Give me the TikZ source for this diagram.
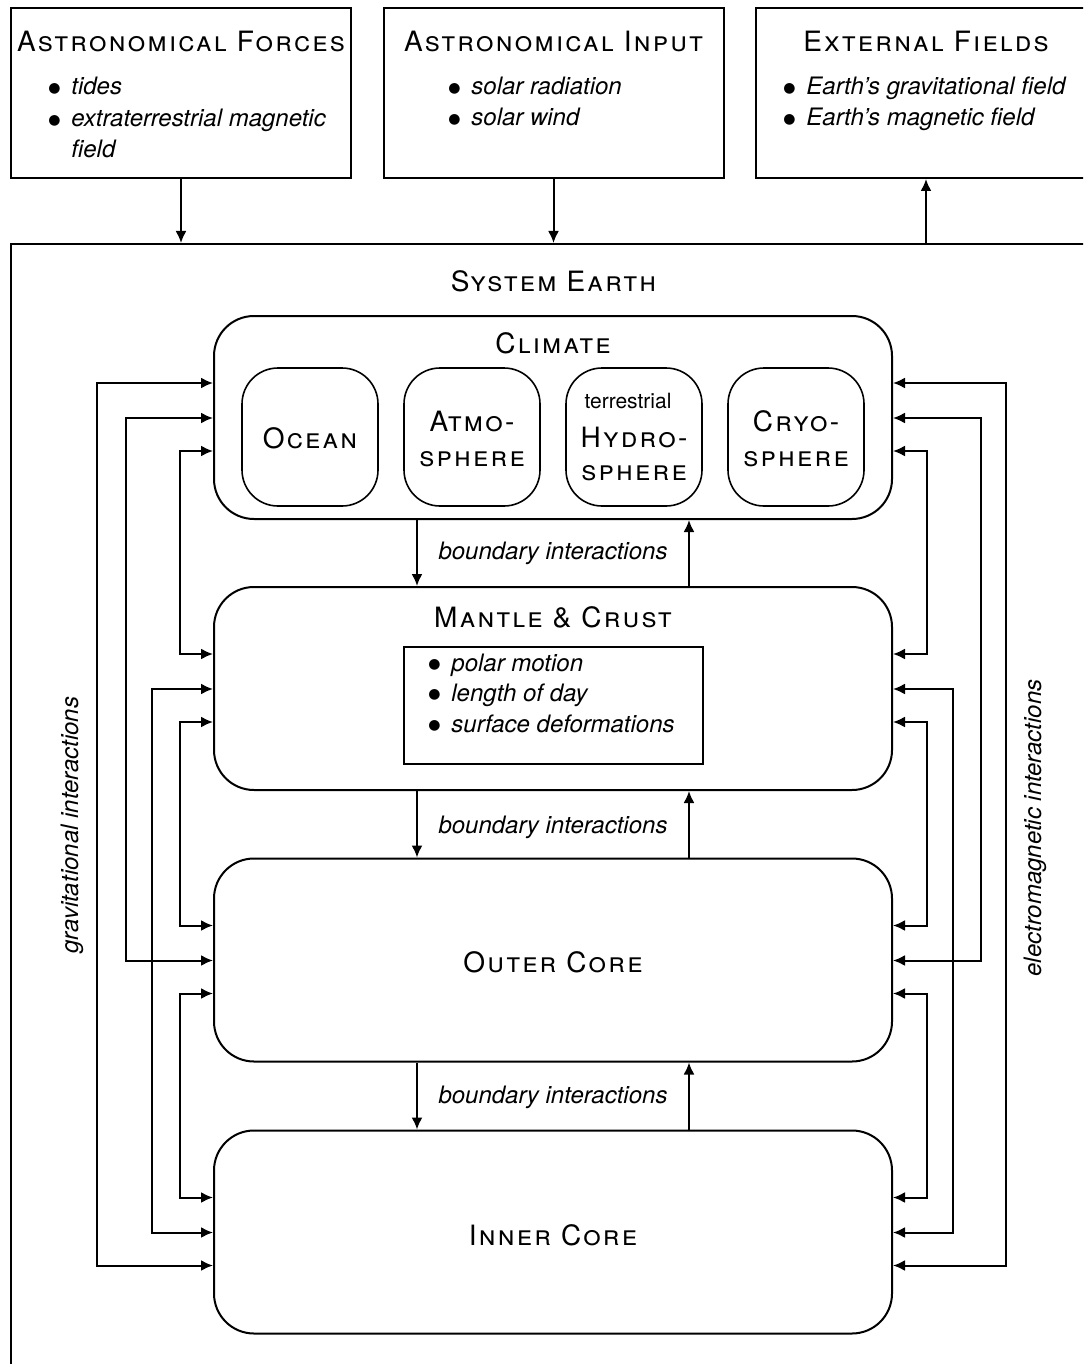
\documentclass[tikz,border=0pt]{standalone}
\usepackage{fontspec}
\setmainfont{TeX Gyre Heros}
\newfontfamily\headfont[LetterSpace=8]{TeX Gyre Heros}
\newfontfamily\symfont{DejaVu Sans}
\usetikzlibrary{arrows.meta,calc}
\tikzset{
 frame/.style={draw, line width=1pt, inner sep=0pt},
 topbox/.style={frame, minimum width=170pt, minimum height=85pt},
 layer/.style={frame, rounded corners=20pt, minimum width=339pt, minimum height=101.5pt},
 sphere/.style={draw, line width=0.8pt, rounded corners=18pt, minimum width=68pt, minimum height=69pt, inner sep=0pt},
 head/.style={font=\headfont\fontsize{14}{16}\selectfont\scshape, anchor=base, inner sep=0pt},
 itm/.style={font=\fontsize{12}{14}\selectfont\itshape, anchor=base west, inner sep=0pt},
 lbl/.style={font=\fontsize{12}{14}\selectfont\itshape, anchor=base, inner sep=0pt},
 smalltext/.style={font=\fontsize{10.5}{12}\selectfont, anchor=base, inner sep=0pt},
 conn/.style={line width=1pt, {Latex[length=6pt,width=5.5pt]}-{Latex[length=6pt,width=5.5pt]}},
 arr/.style={line width=1pt, -{Latex[length=6pt,width=5.5pt]}},
}
\newcommand\bul{\makebox[11.5pt][l]{\raisebox{1.4pt}{\symfont\fontsize{7}{7}\selectfont ●}}}
\begin{document}
\begin{tikzpicture}[x=0.5pt,y=-0.5pt]
\useasboundingbox (0,0) rectangle (1083,1364);
\clip (0,0) rectangle (1083,1364);

% top boxes
\node[topbox] (af) at (181,93) {};
\node[topbox] (ai) at (553.5,93) {};
\node[topbox] (ef) at (926,93) {};
\node[head] (afT) at (181,52) {Astronomical Forces};
\node[head] (aiT) at (553.5,52) {Astronomical Input};
\node[head] (efT) at (926,52) {External Fields};
\node[itm] (af1) at (48,95) {\bul tides};
\node[itm] (af2) at (48,127) {\bul extraterrestrial magnetic};
\node[itm] (af3) at (71,158) {field};
\node[itm] (ai1) at (448,95) {\bul solar radiation};
\node[itm] (ai2) at (448,126) {\bul solar wind};
\node[itm] (ef1) at (783,95) {\bul Earth's gravitational field};
\node[itm] (ef2) at (783,126) {\bul Earth's magnetic field};

% system earth
\node[frame, minimum width=542.5pt, minimum height=573pt] (earth) at (553.5,817) {};
\node[head] (earthT) at (553.5,291) {System Earth};

\draw[arr] (af.south) -- (af.south |- earth.north);
\draw[arr] (ai.south) -- (ai.south |- earth.north);
\draw[arr] (ef.south |- earth.north) -- (ef.south);

% layers
\node[layer] (clim) at (553,417.5) {};
\node[layer] (mant) at (553,688.5) {};
\node[layer] (outer) at (553,960) {};
\node[layer] (inner) at (553,1232) {};

\node[head] (climT) at (553,353) {Climate};
\node[sphere] (ocean) at (310,437) {};
\node[sphere] (atmo) at (472,437) {};
\node[sphere] (hydro) at (634,437) {};
\node[sphere] (cryo) at (796,437) {};
\node[head] (oceanT) at (310,448) {Ocean};
\node[head] (atmoT1) at (472,431) {Atmo-};
\node[head] (atmoT2) at (472,466) {sphere};
\node[smalltext] (hydroT0) at (628,408) {terrestrial};
\node[head] (hydroT1) at (634,447) {Hydro-};
\node[head] (hydroT2) at (634,480) {sphere};
\node[head] (cryoT1) at (796,431) {Cryo-};
\node[head] (cryoT2) at (796,466) {sphere};

\node[head] (mantT) at (553,627) {Mantle \& Crust};
\node[frame, minimum width=149.5pt, minimum height=58.5pt] (mlist) at (553.5,705.5) {};
\node[itm] (m1) at (428,671) {\bul polar motion};
\node[itm] (m2) at (428,701) {\bul length of day};
\node[itm] (m3) at (428,732) {\bul surface deformations};

\node[head] (outerT) at (553,972) {Outer Core};
\node[head] (innerT) at (553,1245) {Inner Core};

% boundary interactions
\foreach \a/\b/\y in {clim/mant/559, mant/outer/833, outer/inner/1103}{
  \draw[arr] ($(\a.south west)+(204,0)$) -- ($(\b.north west)+(204,0)$);
  \draw[arr] ($(\b.north east)+(-204,0)$) -- ($(\a.south east)+(-204,0)$);
  \node[lbl] (bi\a) at (553,\y) {boundary interactions};
}

% ports
\foreach \n in {clim,mant,outer,inner}{
  \coordinate (\n L1) at ($(\n.north west)+(0,68)$);
  \coordinate (\n L2) at ($(\n.north west)+(0,103)$);
  \coordinate (\n L3) at ($(\n.north west)+(0,136)$);
  \coordinate (\n R1) at ($(\n.north east)+(0,68)$);
  \coordinate (\n R2) at ($(\n.north east)+(0,103)$);
  \coordinate (\n R3) at ($(\n.north east)+(0,136)$);
}

% left connectors
\draw[conn] (climL1) -- ++(-116,0) |- (innerL3);
\draw[conn] (climL2) -- ++(-87,0) |- (outerL2);
\draw[conn] (climL3) -- ++(-33,0) |- (mantL1);
\draw[conn] (mantL2) -- ++(-61,0) |- (innerL2);
\draw[conn] (mantL3) -- ++(-33,0) |- (outerL1);
\draw[conn] (outerL3) -- ++(-33,0) |- (innerL1);
% right connectors
\draw[conn] (climR1) -- ++(113,0) |- (innerR3);
\draw[conn] (climR2) -- ++(88,0) |- (outerR2);
\draw[conn] (climR3) -- ++(34,0) |- (mantR1);
\draw[conn] (mantR2) -- ++(60,0) |- (innerR2);
\draw[conn] (mantR3) -- ++(34,0) |- (outerR1);
\draw[conn] (outerR3) -- ++(34,0) |- (innerR1);

\node[lbl, rotate=90, anchor=center] (grav) at (72,825) {gravitational interactions};
\node[lbl, rotate=90, anchor=center] (em) at (1035,828) {electromagnetic interactions};
\end{tikzpicture}
\end{document}
